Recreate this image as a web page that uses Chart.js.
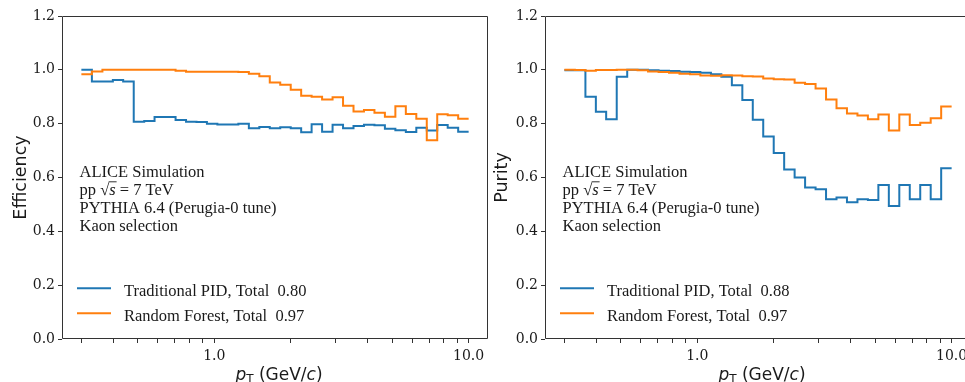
<!DOCTYPE html>
<html>
<head>
<meta charset="utf-8">
<script src="https://cdn.jsdelivr.net/npm/chart.js@4.4.0/dist/chart.umd.min.js"></script>
<style>
  html, body { margin: 0; padding: 0; background: #fff; overflow: hidden; }
  #wrap { position: relative; width: 1000px; height: 382px; }
  .panel { position: absolute; top: 0; width: 500px; height: 382px; }
  #leftBox { left: 0; }
  #rightBox { left: 480px; }
</style>
</head>
<body>
<div id="wrap">
  <div class="panel" id="leftBox"><canvas id="left" width="500" height="382"></canvas></div>
  <div class="panel" id="rightBox"><canvas id="right" width="500" height="382"></canvas></div>
</div>
<script>
// pT bin edges (GeV/c): 37 log-spaced bins between 0.3 and 10
const ptEdges = [0.300, 0.330, 0.363, 0.399, 0.438, 0.482, 0.530, 0.582, 0.640, 0.704,
  0.774, 0.851, 0.935, 1.028, 1.131, 1.243, 1.367, 1.503, 1.652, 1.816,
  1.997, 2.195, 2.413, 2.653, 2.917, 3.207, 3.526, 3.876, 4.262, 4.685,
  5.151, 5.663, 6.226, 6.845, 7.525, 8.273, 9.096, 10.0];

// efficiency per bin
const effPid = [1.00, 0.957, 0.957, 0.962, 0.957, 0.807, 0.810, 0.825, 0.825, 0.814,
  0.807, 0.806, 0.800, 0.797, 0.797, 0.800, 0.783, 0.788, 0.783, 0.787,
  0.783, 0.768, 0.798, 0.770, 0.796, 0.783, 0.791, 0.796, 0.794, 0.781,
  0.776, 0.769, 0.785, 0.775, 0.795, 0.785, 0.770];
const effRf = [0.984, 0.994, 1.00, 1.00, 1.00, 1.00, 1.00, 1.00, 1.00, 0.997,
  0.993, 0.993, 0.993, 0.993, 0.993, 0.992, 0.985, 0.976, 0.953, 0.945,
  0.926, 0.904, 0.900, 0.890, 0.898, 0.867, 0.845, 0.851, 0.841, 0.826,
  0.865, 0.836, 0.818, 0.738, 0.835, 0.831, 0.818];

// purity per bin
const purPid = [0.998, 0.998, 0.900, 0.844, 0.816, 0.974, 1.00, 1.00, 0.998, 0.997,
  0.996, 0.993, 0.992, 0.989, 0.984, 0.974, 0.943, 0.888, 0.815, 0.752,
  0.691, 0.630, 0.600, 0.563, 0.556, 0.519, 0.526, 0.508, 0.519, 0.516,
  0.572, 0.494, 0.572, 0.519, 0.572, 0.519, 0.634];
const purRf = [1.00, 0.999, 0.997, 0.999, 0.999, 1.00, 1.00, 0.998, 0.994, 0.992,
  0.989, 0.985, 0.984, 0.979, 0.978, 0.980, 0.979, 0.976, 0.975, 0.968,
  0.965, 0.964, 0.952, 0.947, 0.931, 0.890, 0.857, 0.838, 0.830, 0.816,
  0.834, 0.775, 0.834, 0.795, 0.803, 0.820, 0.864];

const effTotals = { pid: '0.80', rf: '0.97' };
const purTotals = { pid: '0.88', rf: '0.97' };

const xTicks = [0.3, 0.4, 0.5, 0.6, 0.7, 0.8, 0.9, 1, 2, 3, 4, 5, 6, 7, 8, 9, 10];
const xTickLabels = { 1: '1.0', 10: '10.0' };
const infoLines = ['ALICE Simulation', 'PYTHIA 6.4 (Perugia-0 tune)', 'Kaon selection'];

const BLUE = '#1f77b4';
const ORANGE = '#ff7f0e';
const INK = '#1a1a1a';
const SERIF = '"Liberation Serif", "Times New Roman", serif';
const SANS = '"DejaVu Sans", sans-serif';

// x range: data range plus 5% margin on each side in log space
const logLo = Math.log10(ptEdges[0]), logHi = Math.log10(ptEdges[ptEdges.length - 1]);
const xMin = Math.pow(10, logLo - 0.05 * (logHi - logLo));
const xMax = Math.pow(10, logHi + 0.05 * (logHi - logLo));

function histPoints(values) {
  const pts = values.map((v, i) => ({ x: ptEdges[i], y: v }));
  pts.push({ x: ptEdges[values.length], y: values[values.length - 1] });
  return pts;
}

const panelDecor = {
  id: 'panelDecor',
  afterDraw(chart) {
    const { ctx, chartArea: a } = chart;
    ctx.save();

    // frame round the plot area
    ctx.strokeStyle = '#333';
    ctx.lineWidth = 1;
    const L = Math.round(a.left) + 0.5, R = Math.round(a.right) - 0.5;
    const T = Math.round(a.top) + 0.5, B = Math.round(a.bottom) - 0.5;
    ctx.beginPath();
    ctx.moveTo(L, T); ctx.lineTo(R, T); ctx.lineTo(R, B); ctx.lineTo(L, B); ctx.closePath();
    ctx.stroke();

    // simulation info block
    const f = '16.5px ' + SERIF, fi = 'italic 16.5px ' + SERIF;
    const tx = a.left + 17.5;
    ctx.fillStyle = INK;
    ctx.textAlign = 'left';
    ctx.textBaseline = 'alphabetic';
    ctx.font = f;
    ctx.fillText(infoLines[0], tx, a.top + 161.3);
    let x = tx;
    const y2 = a.top + 179;
    ctx.fillText('pp ', x, y2); x += ctx.measureText('pp ').width;
    ctx.fillText('\u221A', x, y2); x += ctx.measureText('\u221A').width;
    ctx.font = fi;
    const sw = ctx.measureText('s').width;
    ctx.fillText('s', x, y2);
    ctx.beginPath();
    ctx.moveTo(x - 0.5, y2 - 13.2);
    ctx.lineTo(x + sw + 1, y2 - 13.2);
    ctx.strokeStyle = INK;
    ctx.lineWidth = 0.9;
    ctx.stroke();
    x += sw;
    ctx.font = f;
    ctx.fillText(' = 7 TeV', x, y2);
    ctx.fillText(infoLines[1], tx, a.top + 196.8);
    ctx.fillText(infoLines[2], tx, a.top + 214.6);

    // legend
    chart.data.datasets.forEach((ds, i) => {
      const ly = a.top + 272.3 + i * 25;
      ctx.beginPath();
      ctx.moveTo(a.left + 15, ly);
      ctx.lineTo(a.left + 49, ly);
      ctx.strokeStyle = ds.borderColor;
      ctx.lineWidth = 2;
      ctx.stroke();
      ctx.font = f;
      ctx.fillStyle = INK;
      ctx.fillText(ds.label, a.left + 62, ly + 8);
    });

    // x-axis title: p_T (GeV/c)
    const parts = [
      { t: 'p', font: 'italic 17px ' + SANS, dy: 0 },
      { t: 'T', font: '12px ' + SANS, dy: 3.5 },
      { t: ' (GeV/', font: '17px ' + SANS, dy: 0 },
      { t: 'c', font: 'italic 17px ' + SANS, dy: 0 },
      { t: ')', font: '17px ' + SANS, dy: 0 }
    ];
    let total = 0;
    parts.forEach(p => { ctx.font = p.font; p.w = ctx.measureText(p.t).width; total += p.w; });
    let px = (a.left + a.right) / 2 + 4 - total / 2;
    const by = a.bottom + 40.5;
    parts.forEach(p => {
      ctx.font = p.font;
      ctx.fillText(p.t, px, by + p.dy);
      px += p.w;
    });
    ctx.restore();
  }
};

function makePanel(canvasId, cfg) {
  return new Chart(document.getElementById(canvasId), {
    type: 'line',
    data: {
      datasets: [
        { label: 'Traditional PID, Total  ' + cfg.totals.pid, data: histPoints(cfg.pid), borderColor: BLUE, order: 1 },
        { label: 'Random Forest, Total  ' + cfg.totals.rf, data: histPoints(cfg.rf), borderColor: ORANGE, order: 0 }
      ]
    },
    options: {
      responsive: false,
      animation: false,
      devicePixelRatio: 1,
      layout: { padding: { left: 0, right: cfg.padRight, top: 16, bottom: 0 } },
      elements: {
        point: { radius: 0 },
        line: { borderWidth: 2, stepped: 'before', tension: 0, fill: false }
      },
      plugins: { legend: { display: false }, tooltip: { enabled: false } },
      scales: {
        x: {
          type: 'logarithmic',
          min: xMin,
          max: xMax,
          afterBuildTicks: axis => { axis.ticks = xTicks.map(v => ({ value: v })); },
          afterFit: s => { s.height = 43; s.paddingLeft = 0; s.paddingRight = 0; },
          ticks: {
            autoSkip: false,
            maxRotation: 0,
            padding: 5,
            color: INK,
            font: { family: '"DejaVu Serif", serif', size: 14 },
            callback: v => xTickLabels[v] || ''
          },
          grid: { drawOnChartArea: false, tickLength: 4, tickColor: '#333' },
          border: { display: false }
        },
        y: {
          min: 0,
          max: 1.2,
          afterFit: s => { s.width = cfg.yWidth; s.paddingTop = 0; s.paddingBottom = 0; },
          ticks: {
            stepSize: 0.2,
            padding: 3,
            color: INK,
            font: { family: '"DejaVu Serif", serif', size: 14 },
            callback: v => v.toFixed(1)
          },
          grid: { drawOnChartArea: false, tickLength: 4, tickColor: '#333' },
          border: { display: false },
          title: {
            display: true,
            text: cfg.yTitle,
            color: INK,
            font: { family: SANS, size: 17.5 },
            padding: { top: cfg.titlePad, bottom: 0 }
          }
        }
      }
    },
    plugins: [panelDecor]
  });
}

makePanel('left', { pid: effPid, rf: effRf, totals: effTotals, yTitle: 'Efficiency', yWidth: 62, padRight: 12, titlePad: 11 });
makePanel('right', { pid: purPid, rf: purRf, totals: purTotals, yTitle: 'Purity', yWidth: 65, padRight: 9, titlePad: 12 });
</script>
</body>
</html>
